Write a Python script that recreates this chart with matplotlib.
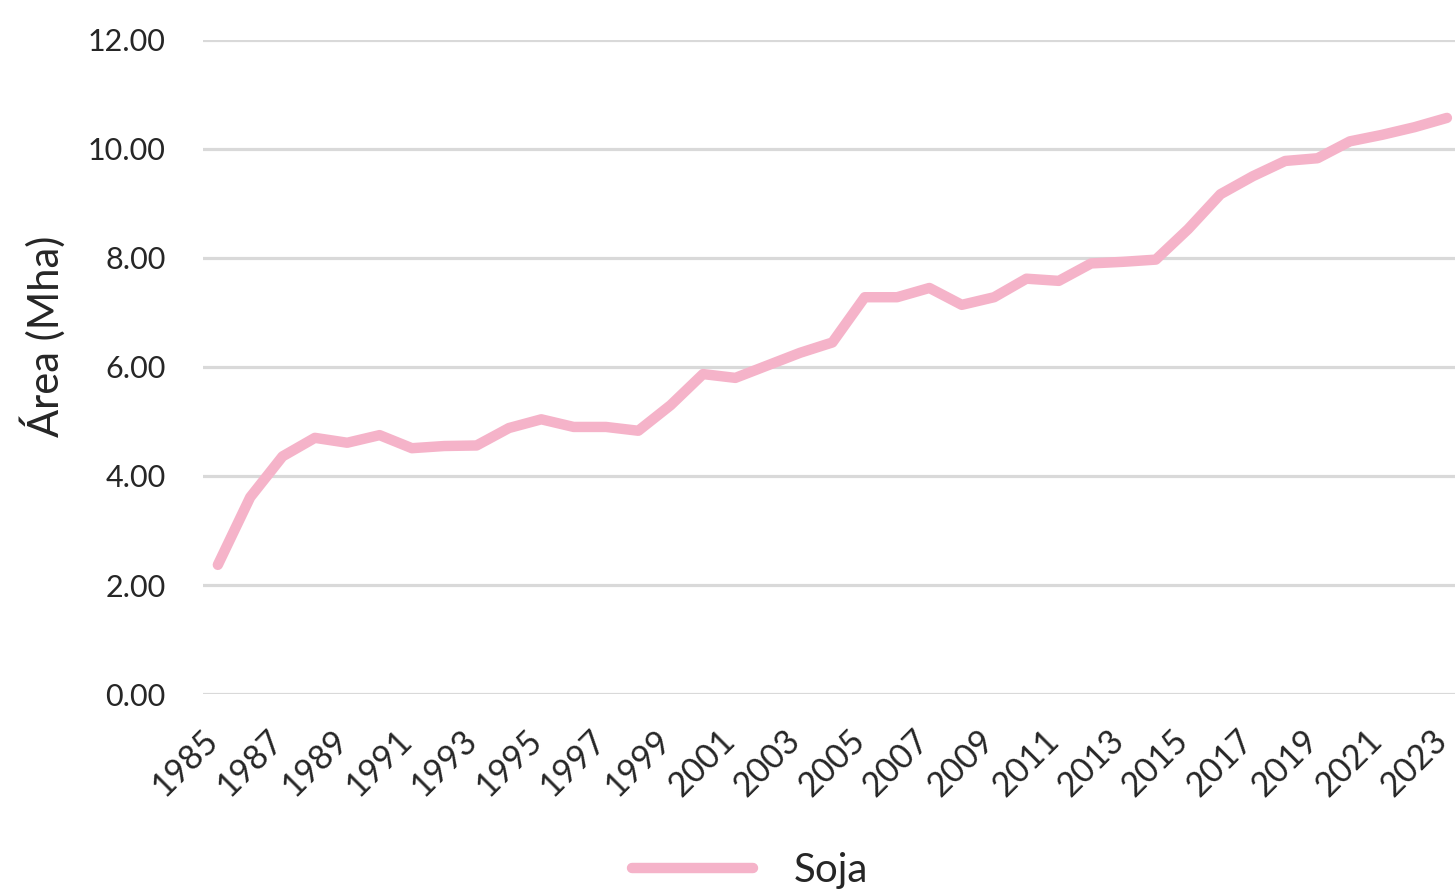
import matplotlib
matplotlib.use('Agg')
import matplotlib.pyplot as plt
import matplotlib.transforms as mtransforms

# area de soja (Mha), 1985-2023
anos = list(range(1985, 2024))
soja = [2.37, 3.61, 4.36, 4.70, 4.61, 4.75, 4.51, 4.55, 4.56, 4.88,
        5.04, 4.90, 4.90, 4.83, 5.30, 5.87, 5.80, 6.03, 6.26, 6.45,
        7.28, 7.28, 7.45, 7.14, 7.28, 7.62, 7.58, 7.90, 7.93, 7.97,
        8.53, 9.17, 9.50, 9.78, 9.83, 10.14, 10.26, 10.40, 10.57]
anos_ticks = list(range(1985, 2024, 2))
yticks = [0, 2, 4, 6, 8, 10, 12]

plt.rcParams['font.family'] = ['Lato', 'DejaVu Sans']

fig = plt.figure(figsize=(14.55, 8.94), dpi=100)
ax = fig.add_axes([0.1395, 0.2237, 0.8605, 0.7316])

ax.plot(anos, soja, '-', lw=7.5, color='#f5b3c9', solid_capstyle='round',
        label='Soja', clip_on=False, zorder=3)

ax.set_xlim(1984.54, 2023.25)
ax.set_ylim(0, 12)
ax.set_yticks(yticks)
ax.set_yticklabels(['%.2f' % v for v in yticks])
ax.set_xticks(anos_ticks)
ax.set_xticklabels([str(a) for a in anos_ticks], rotation=45, ha='right',
                   va='center', rotation_mode='anchor')
ax.tick_params(axis='both', length=0, labelcolor='#262626')
ax.tick_params(axis='y', pad=27, labelsize=22)
ax.tick_params(axis='x', pad=30, labelsize=24.5)
# petit decalage a gauche des annees
desloc = mtransforms.ScaledTranslation(-5/100, 0, fig.dpi_scale_trans)
for lbl in ax.get_xticklabels():
    lbl.set_transform(lbl.get_transform() + desloc)
ax.grid(axis='y', color='#d9d9d9', lw=2.3)
ax.set_axisbelow(True)
for s in ax.spines.values():
    s.set_visible(False)

ax.set_ylabel('Área (Mha)', fontsize=30, color='#262626')
ax.yaxis.set_label_coords(-0.110, 0.547)

leg = fig.legend(loc='center', bbox_to_anchor=(0.5155, 0.026), frameon=False,
                 fontsize=29, handlelength=3.0, handletextpad=1.0)
for t in leg.get_texts():
    t.set_color('#262626')

fig.savefig('out.png', dpi=100)
